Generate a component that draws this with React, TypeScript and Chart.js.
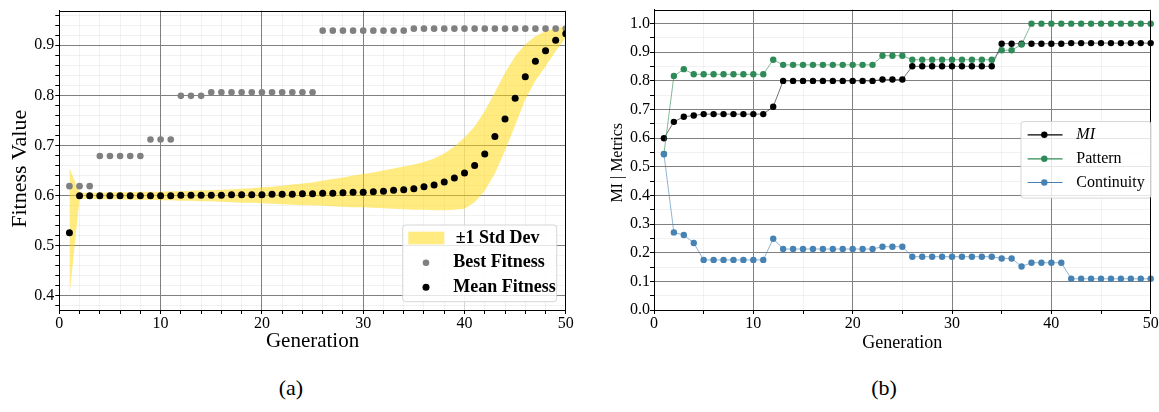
import React, { useEffect, useRef } from "react";
import { Chart, registerables } from "chart.js";

Chart.register(...registerables);

const FONT = '"Liberation Serif", "DejaVu Serif", serif';

// ---------- data ----------
const generations = [
  1, 2, 3, 4, 5, 6, 7, 8, 9, 10, 11, 12, 13, 14, 15, 16, 17, 18, 19, 20, 21, 22, 23, 24, 25,
  26, 27, 28, 29, 30, 31, 32, 33, 34, 35, 36, 37, 38, 39, 40, 41, 42, 43, 44, 45, 46, 47, 48, 49, 50,
];

const bestFitness = [
  0.619, 0.619, 0.619,
  0.679, 0.679, 0.679, 0.679, 0.679,
  0.712, 0.712, 0.712,
  0.799, 0.799, 0.799,
  0.806, 0.806, 0.806, 0.806, 0.806, 0.806, 0.806, 0.806, 0.806, 0.806, 0.806,
  0.929, 0.929, 0.929, 0.929, 0.929, 0.929, 0.929, 0.929, 0.929,
  0.933, 0.933, 0.933, 0.933, 0.933, 0.933, 0.933, 0.933, 0.933, 0.933, 0.933, 0.933, 0.933, 0.933, 0.933, 0.933,
];

const meanFitness = [
  0.526, 0.6, 0.6, 0.6, 0.6, 0.6, 0.6, 0.6, 0.6, 0.6, 0.6,
  0.601, 0.601, 0.601, 0.601, 0.601, 0.602, 0.602, 0.602, 0.602, 0.603, 0.603, 0.603,
  0.604, 0.604, 0.605, 0.605, 0.606, 0.607, 0.607, 0.608, 0.609, 0.611,
  0.612, 0.614, 0.618, 0.621, 0.627, 0.635, 0.645, 0.66, 0.683, 0.718,
  0.753, 0.794, 0.837, 0.868, 0.889, 0.91, 0.923,
];

const stdUpper = [
  0.655, 0.606, 0.606, 0.606, 0.607, 0.607, 0.607, 0.608, 0.608, 0.608,
  0.609, 0.609, 0.61, 0.611, 0.611, 0.612, 0.613, 0.614, 0.615, 0.617,
  0.618, 0.62, 0.622, 0.624, 0.626, 0.63, 0.633, 0.636, 0.64, 0.643,
  0.646, 0.65, 0.654, 0.658, 0.662, 0.667, 0.674, 0.684, 0.698, 0.716,
  0.738, 0.769, 0.806, 0.845, 0.878, 0.902, 0.918, 0.928, 0.934, 0.938,
];

const stdLower = [
  0.4, 0.594, 0.594, 0.593, 0.593, 0.593, 0.592, 0.592, 0.592, 0.591,
  0.591, 0.59, 0.59, 0.589, 0.589, 0.588, 0.587, 0.586, 0.586, 0.585,
  0.584, 0.583, 0.582, 0.581, 0.581, 0.58, 0.579, 0.578, 0.577, 0.577,
  0.576, 0.575, 0.574, 0.573, 0.572, 0.572, 0.571, 0.571, 0.572, 0.574,
  0.587, 0.61, 0.644, 0.69, 0.74, 0.792, 0.829, 0.858, 0.888, 0.915,
];

const miValues = [
  0.6, 0.657, 0.675, 0.679,
  0.684, 0.684, 0.684, 0.684, 0.684, 0.684, 0.684,
  0.71,
  0.8, 0.8, 0.8, 0.8, 0.8, 0.8, 0.8, 0.8, 0.8, 0.8,
  0.805, 0.805, 0.805,
  0.851, 0.851, 0.851, 0.851, 0.851, 0.851, 0.851, 0.851, 0.851,
  0.93, 0.93, 0.93, 0.93, 0.93, 0.93, 0.93,
  0.932, 0.932, 0.932, 0.932, 0.932, 0.932, 0.932, 0.932, 0.932,
];

const patternValues = [
  0.545, 0.817, 0.841,
  0.823, 0.823, 0.823, 0.823, 0.823, 0.823, 0.823, 0.823,
  0.874,
  0.856, 0.856, 0.856, 0.856, 0.856, 0.856, 0.856, 0.856, 0.856, 0.856,
  0.888, 0.888, 0.888,
  0.874, 0.874, 0.874, 0.874, 0.874, 0.874, 0.874, 0.874, 0.874,
  0.907, 0.907, 0.927,
  1.0, 1.0, 1.0, 1.0, 1.0, 1.0, 1.0, 1.0, 1.0, 1.0, 1.0, 1.0, 1.0,
];

const continuityValues = [
  0.544, 0.271, 0.262, 0.234,
  0.175, 0.175, 0.175, 0.175, 0.175, 0.175, 0.175,
  0.249,
  0.213, 0.213, 0.213, 0.213, 0.213, 0.213, 0.213, 0.213, 0.213, 0.213,
  0.221, 0.221, 0.221,
  0.186, 0.186, 0.186, 0.186, 0.186, 0.186, 0.186, 0.186, 0.186,
  0.18, 0.18, 0.152,
  0.165, 0.165, 0.165, 0.165,
  0.109, 0.109, 0.109, 0.109, 0.109, 0.109, 0.109, 0.109, 0.109,
];

// ---------- ticks / labels ----------
const fitnessXTicks = [0, 10, 20, 30, 40, 50];
const fitnessXMinorTicks = [2, 4, 6, 8, 12, 14, 16, 18, 22, 24, 26, 28, 32, 34, 36, 38, 42, 44, 46, 48];
const fitnessYTicks = [0.4, 0.5, 0.6, 0.7, 0.8, 0.9];
const fitnessYMinorTicks = [
  0.38, 0.42, 0.44, 0.46, 0.48, 0.52, 0.54, 0.56, 0.58, 0.62, 0.64, 0.66, 0.68,
  0.72, 0.74, 0.76, 0.78, 0.82, 0.84, 0.86, 0.88, 0.92, 0.94, 0.96,
];
const metricsXTicks = [0, 10, 20, 30, 40, 50];
const metricsXMinorTicks = [5, 15, 25, 35, 45];
const metricsYTicks = [0.0, 0.1, 0.2, 0.3, 0.4, 0.5, 0.6, 0.7, 0.8, 0.9, 1.0];
const metricsYMinorTicks = [0.05, 0.15, 0.25, 0.35, 0.45, 0.55, 0.65, 0.75, 0.85, 0.95];

const fitnessLegendLabels = ["±1 Std Dev", "Best Fitness", "Mean Fitness"];
const metricsLegendLabels = ["MI", "Pattern", "Continuity"];
const axisTitles = { fitnessX: "Generation", fitnessY: "Fitness Value", metricsX: "Generation", metricsY: "MI | Metrics" };
const subCaptions = ["(a)", "(b)"];

// ---------- helpers ----------
const near = (a: number, b: number) => Math.abs(a - b) < 1e-6;
const inList = (list: number[], v: number) => list.some((t) => near(t, v));
const pts = (ys: number[]) => generations.map((g, i) => ({ x: g, y: ys[i] }));

const YELLOW = "rgba(255,215,0,0.5)";
const GREEN = "#2e8b57";
const BLUE = "#4682b4";

function makeAxis(o: {
  min: number;
  max: number;
  major: number[];
  minor: number[];
  fmt: (v: number) => string;
  title?: string;
  titleSize?: number;
  titlePadding?: any;
  labelPad: number;
  fit: (s: any) => void;
  light?: number[];
}) {
  return {
    type: "linear",
    min: o.min,
    max: o.max,
    afterBuildTicks: (s: any) => {
      s.ticks = [...o.major, ...o.minor].sort((a, b) => a - b).map((v) => ({ value: v }));
    },
    afterFit: o.fit,
    ticks: {
      autoSkip: false,
      maxRotation: 0,
      minRotation: 0,
      padding: o.labelPad,
      color: "#000",
      font: { family: FONT, size: 16 },
      callback: (v: number) => (inList(o.major, v) ? o.fmt(v) : ""),
    },
    grid: {
      color: (c: any) => {
        const v = c.tick ? c.tick.value : undefined;
        if (v === undefined) return "rgba(0,0,0,0)";
        if (o.light && inList(o.light, v)) return "#d9d9d9";
        return inList(o.major, v) ? "#808080" : "rgba(0,0,0,0.05)";
      },
      lineWidth: 1,
      drawTicks: true,
      tickLength: 4,
      tickColor: "#000",
      tickWidth: 1,
    },
    border: { display: true, color: "#000", width: 1 },
    title: {
      display: !!o.title,
      text: o.title || "",
      color: "#000",
      font: { family: FONT, size: o.titleSize || 16 },
      padding: o.titlePadding || 0,
    },
  };
}

const framePlugin = {
  id: "frame",
  afterDatasetsDraw(chart: any) {
    const { ctx, chartArea: a } = chart;
    ctx.save();
    ctx.strokeStyle = "#000";
    ctx.lineWidth = 1;
    const t = Math.round(a.top) + 0.5;
    const r = Math.round(a.right) - 0.5;
    ctx.beginPath();
    ctx.moveTo(a.left, t);
    ctx.lineTo(r, t);
    ctx.lineTo(r, a.bottom);
    ctx.stroke();
    ctx.restore();
  },
};

// rotated y-axis title drawn beside the axis
const yTitlePlugin = (id: string, text: string, cx: number, dy: number, size: number) => ({
  id,
  afterDraw(chart: any) {
    const { ctx, chartArea: a } = chart;
    ctx.save();
    ctx.translate(cx, (a.top + a.bottom) / 2 + dy);
    ctx.rotate(-Math.PI / 2);
    ctx.font = `${size}px ${FONT}`;
    ctx.fillStyle = "#000";
    ctx.textAlign = "center";
    ctx.textBaseline = "middle";
    ctx.fillText(text, 0, 0);
    ctx.restore();
  },
});

const fitnessLegendPlugin = {
  id: "fitnessLegend",
  afterDraw(chart: any) {
    const { ctx, chartArea: a } = chart;
    const w = 154;
    const h = 76.7;
    const x = a.right - 9.1 - w;
    const y = a.bottom - 8.3 - h;
    ctx.save();
    ctx.beginPath();
    ctx.roundRect(x, y, w, h, 3);
    ctx.fillStyle = "rgba(255,255,255,0.8)";
    ctx.fill();
    ctx.strokeStyle = "rgba(204,204,204,0.8)";
    ctx.lineWidth = 1;
    ctx.stroke();

    ctx.fillStyle = YELLOW;
    ctx.fillRect(x + 5.6, y + 6.7, 36, 12.6);

    ctx.fillStyle = "#808080";
    ctx.beginPath();
    ctx.arc(x + 23.3, y + 37.7, 3.3, 0, Math.PI * 2);
    ctx.fill();
    ctx.fillStyle = "#000";
    ctx.beginPath();
    ctx.arc(x + 23.3, y + 62.3, 3.5, 0, Math.PI * 2);
    ctx.fill();

    ctx.font = `bold 18px ${FONT}`;
    ctx.textBaseline = "middle";
    ctx.textAlign = "left";
    ctx.fillStyle = "#000";
    ctx.fillText(fitnessLegendLabels[0], x + 53, y + 13.3);
    ctx.fillText(fitnessLegendLabels[1], x + 50.5, y + 37.7);
    ctx.fillText(fitnessLegendLabels[2], x + 50.5, y + 62.3);
    ctx.restore();
  },
};

const metricsLegendPlugin = {
  id: "metricsLegend",
  afterDraw(chart: any) {
    const { ctx, chartArea: a } = chart;
    const w = 130;
    const h = 76.6;
    const x = a.right + 0.3 - w;
    const y = (a.top + a.bottom) / 2 - h / 2;
    ctx.save();
    ctx.beginPath();
    ctx.roundRect(x, y, w, h, 3);
    ctx.fillStyle = "rgba(255,255,255,0.8)";
    ctx.fill();
    ctx.strokeStyle = "rgba(204,204,204,0.8)";
    ctx.lineWidth = 1;
    ctx.stroke();

    const colors = ["#000", GREEN, BLUE];
    const rows = [13.3, 37.3, 61];
    rows.forEach((ry, i) => {
      ctx.strokeStyle = colors[i];
      ctx.lineWidth = 1.2;
      ctx.beginPath();
      ctx.moveTo(x + 6.6, y + ry);
      ctx.lineTo(x + 41.6, y + ry);
      ctx.stroke();
      ctx.fillStyle = colors[i];
      ctx.beginPath();
      ctx.arc(x + 23.3, y + ry, 3.2, 0, Math.PI * 2);
      ctx.fill();
      ctx.fillStyle = "#000";
      ctx.font = (i === 0 ? "italic " : "") + `16px ${FONT}`;
      ctx.textBaseline = "middle";
      ctx.textAlign = "left";
      ctx.fillText(metricsLegendLabels[i], x + 55.3, y + ry);
    });
    ctx.restore();
  },
};

function fitnessConfig(): any {
  return {
    type: "line",
    data: {
      datasets: [
        {
          label: fitnessLegendLabels[0],
          data: pts(stdUpper),
          borderWidth: 0,
          pointRadius: 0,
          fill: "+1",
          backgroundColor: YELLOW,
          borderColor: "rgba(0,0,0,0)",
          order: 10,
        },
        {
          label: "lower",
          data: pts(stdLower),
          borderWidth: 0,
          pointRadius: 0,
          fill: false,
          borderColor: "rgba(0,0,0,0)",
          order: 10,
        },
        {
          label: fitnessLegendLabels[1],
          data: pts(bestFitness),
          showLine: false,
          pointRadius: 3.3,
          pointBorderWidth: 0,
          pointBackgroundColor: "#808080",
          pointBorderColor: "#808080",
          clip: 0,
          order: 2,
        },
        {
          label: fitnessLegendLabels[2],
          data: pts(meanFitness),
          showLine: false,
          pointRadius: 3.5,
          pointBorderWidth: 0,
          pointBackgroundColor: "#000",
          pointBorderColor: "#000",
          clip: 0,
          order: 1,
        },
      ],
    },
    options: {
      responsive: false,
      animation: false,
      devicePixelRatio: 1,
      events: [],
      layout: { padding: { left: 0, top: 9.3, right: 14.2, bottom: 6 } },
      plugins: { legend: { display: false }, tooltip: { enabled: false } },
      scales: {
        x: makeAxis({
          min: 0,
          max: 50,
          major: fitnessXTicks,
          minor: fitnessXMinorTicks,
          fmt: (v) => String(v),
          title: axisTitles.fitnessX,
          titleSize: 21,
          titlePadding: { top: 0, bottom: 0 },
          labelPad: 0,
          fit: (s: any) => {
            s.height = 44;
          },
          light: [40],
        }),
        y: makeAxis({
          min: 0.372,
          max: 0.969,
          major: fitnessYTicks,
          minor: fitnessYMinorTicks,
          fmt: (v) => v.toFixed(1),
          labelPad: 1,
          fit: (s: any) => {
            s.width = 59.3;
          },
        }),
      },
    },
    plugins: [framePlugin, yTitlePlugin("fitnessYTitle", axisTitles.fitnessY, 20, 8.5, 22), fitnessLegendPlugin],
  };
}

function metricsConfig(): any {
  const line = (label: string, ys: number[], color: string, lineColor: string, order: number) => ({
    label,
    data: pts(ys),
    borderColor: lineColor,
    borderWidth: 1,
    pointRadius: 3.2,
    pointBorderWidth: 0,
    pointBackgroundColor: color,
    pointBorderColor: color,
    fill: false,
    tension: 0,
    clip: false,
    order,
  });
  return {
    type: "line",
    data: {
      datasets: [
        line(metricsLegendLabels[0], miValues, "#000", "rgba(0,0,0,0.55)", 3),
        line(metricsLegendLabels[1], patternValues, GREEN, "rgba(46,139,87,0.6)", 2),
        line(metricsLegendLabels[2], continuityValues, BLUE, "rgba(70,130,180,0.6)", 1),
      ],
    },
    options: {
      responsive: false,
      animation: false,
      devicePixelRatio: 1,
      events: [],
      layout: { padding: { left: 0, top: 9.3, right: 8.3, bottom: 6 } },
      plugins: { legend: { display: false }, tooltip: { enabled: false } },
      scales: {
        x: makeAxis({
          min: 0,
          max: 50,
          major: metricsXTicks,
          minor: metricsXMinorTicks,
          fmt: (v) => String(v),
          title: axisTitles.metricsX,
          titleSize: 18,
          titlePadding: { top: 0, bottom: 0 },
          labelPad: 0,
          fit: (s: any) => {
            s.height = 44;
          },
        }),
        y: makeAxis({
          min: 0,
          max: 1.049,
          major: metricsYTicks,
          minor: metricsYMinorTicks,
          fmt: (v) => v.toFixed(1),
          labelPad: 0,
          fit: (s: any) => {
            s.width = 64;
          },
        }),
      },
    },
    plugins: [framePlugin, yTitlePlugin("metricsYTitle", axisTitles.metricsY, 27.5, 3, 16), metricsLegendPlugin],
  };
}

function ChartCanvas(props: { make: () => any; left: number; width: number; height: number }) {
  const ref = useRef<HTMLCanvasElement>(null);
  useEffect(() => {
    const chart = new Chart(ref.current as HTMLCanvasElement, props.make());
    return () => chart.destroy();
  }, []);
  return (
    <canvas
      ref={ref}
      width={props.width}
      height={props.height}
      style={{
        position: "absolute",
        left: props.left,
        top: 0,
        width: props.width,
        height: props.height,
        display: "block",
      }}
    />
  );
}

export default function App() {
  const caption = (text: string, cx: number) => (
    <div
      style={{
        position: "absolute",
        left: cx - 50,
        top: 375,
        width: 100,
        textAlign: "center",
        fontFamily: FONT,
        fontSize: 22,
        lineHeight: "26px",
        color: "#000",
      }}
    >
      {text}
    </div>
  );
  return (
    <div
      style={{
        position: "fixed",
        left: 0,
        top: 0,
        width: 1159,
        height: 412,
        background: "#fff",
        overflow: "hidden",
      }}
    >
      <ChartCanvas make={fitnessConfig} left={0} width={580} height={360} />
      <ChartCanvas make={metricsConfig} left={590} width={569} height={360} />
      {caption(subCaptions[0], 291)}
      {caption(subCaptions[1], 884)}
    </div>
  );
}
